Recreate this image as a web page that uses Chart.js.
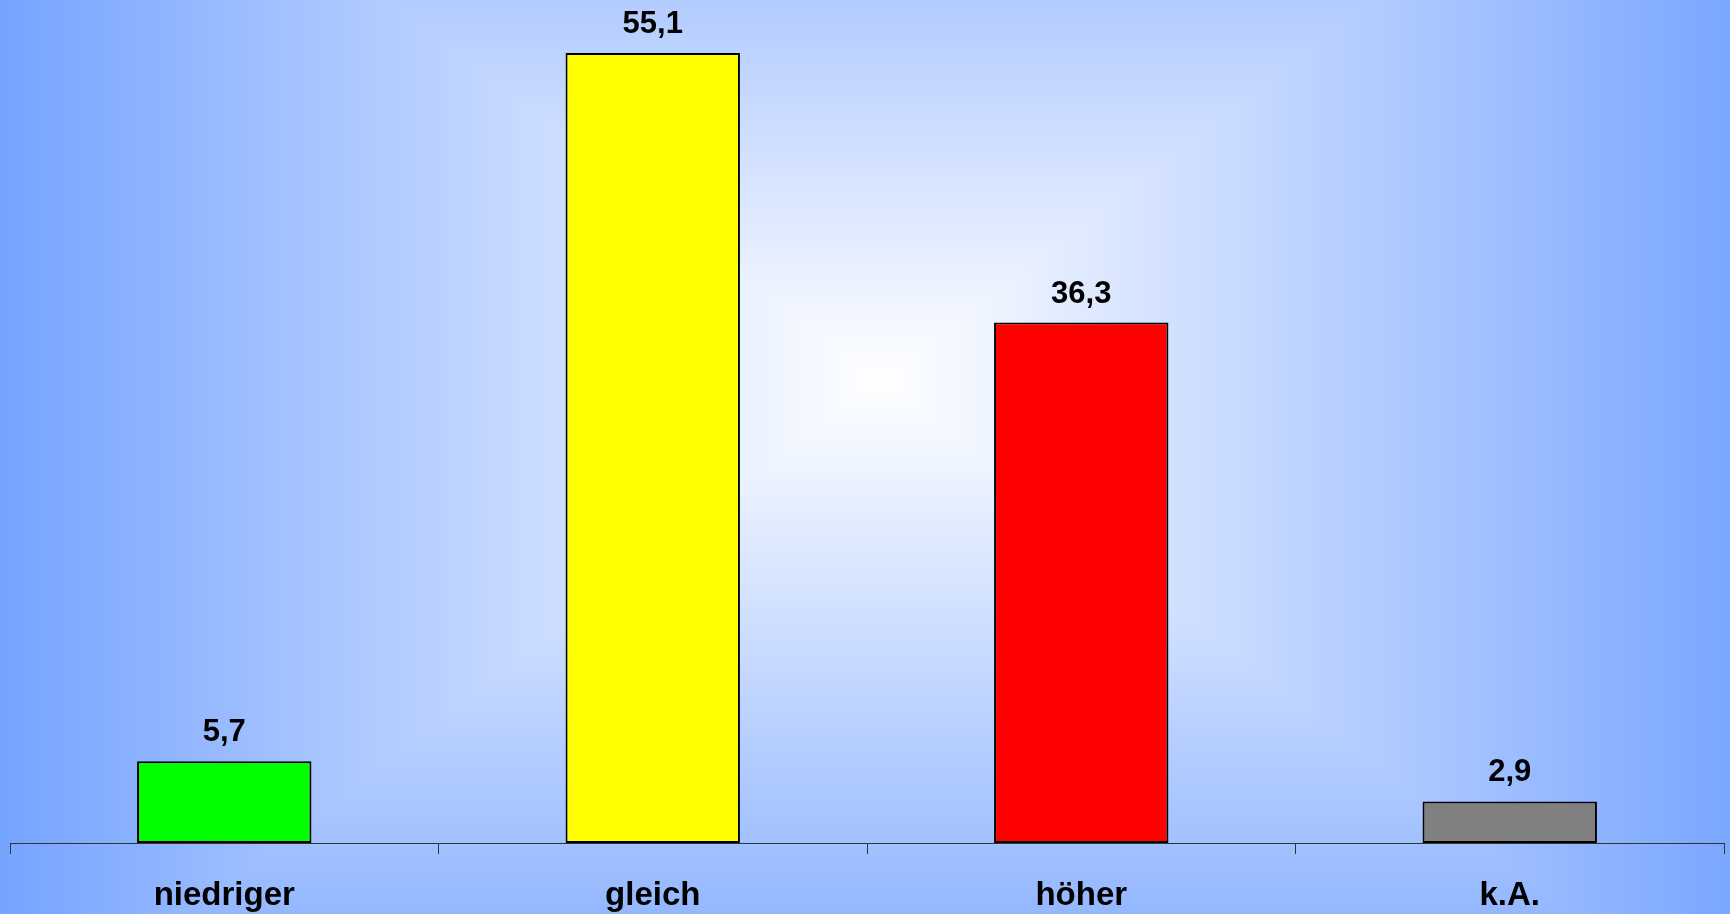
<!DOCTYPE html>
<html>
<head>
<meta charset="utf-8">
<script src="https://cdn.jsdelivr.net/npm/chart.js@4.4.1/dist/chart.umd.min.js"></script>
<style>
  html, body { margin: 0; padding: 0; background: #ffffff; }
  #wrap { width: 1730px; height: 914px; position: relative; }
</style>
</head>
<body>
<div id="wrap"><canvas id="c" width="1730" height="914"></canvas></div>
<script>
const categories = ['niedriger', 'gleich', 'höher', 'k.A.'];
const values = [5.7, 55.1, 36.3, 2.9];
const barColors = ['#00ff00', '#ffff00', '#ff0000', '#808080'];

const bgPlugin = {
  id: 'boxGradient',
  beforeDraw(chart) {
    const ctx = chart.ctx;
    const W = chart.width, H = chart.height;
    const img = ctx.createImageData(W, H);
    const d = img.data;
    const cx = 880, cy = 380, a = 980, b = 760;
    const edge = [102, 153, 255];
    for (let y = 0; y < H; y++) {
      const ty = Math.abs(y - cy) / b;
      for (let x = 0; x < W; x++) {
        let t = Math.max(Math.abs(x - cx) / a, ty);
        if (t > 1) t = 1;
        const i = (y * W + x) * 4;
        d[i] = Math.round(255 + (edge[0] - 255) * t);
        d[i + 1] = Math.round(255 + (edge[1] - 255) * t);
        d[i + 2] = Math.round(255 + (edge[2] - 255) * t);
        d[i + 3] = 255;
      }
    }
    ctx.putImageData(img, 0, 0);
  }
};

const valueLabels = {
  id: 'valueLabels',
  afterDatasetsDraw(chart) {
    const ctx = chart.ctx;
    const meta = chart.getDatasetMeta(0);
    ctx.save();
    ctx.font = 'bold 31px "Liberation Sans", Arial, sans-serif';
    ctx.fillStyle = '#000000';
    ctx.textAlign = 'center';
    ctx.textBaseline = 'alphabetic';
    meta.data.forEach((bar, i) => {
      const txt = values[i].toFixed(1).replace('.', ',');
      ctx.fillText(txt, bar.x, bar.y - 20);
    });
    ctx.restore();
  }
};

new Chart(document.getElementById('c'), {
  type: 'bar',
  data: {
    labels: categories,
    datasets: [{
      data: values,
      backgroundColor: barColors,
      borderColor: '#000000',
      borderWidth: 2,
      borderSkipped: false,
      categoryPercentage: 1.0,
      barPercentage: 0.407
    }]
  },
  options: {
    responsive: false,
    animation: false,
    layout: { padding: { left: 10, right: 6, top: 0, bottom: 0 } },
    plugins: { legend: { display: false }, tooltip: { enabled: false } },
    scales: {
      y: { display: false, min: 0, max: 58.8 },
      x: {
        offset: true,
        afterFit(scale) { scale.height = 71; },
        grid: {
          offset: true,
          drawOnChartArea: false,
          drawTicks: true,
          tickLength: 11,
          color: '#333333',
          lineWidth: 1
        },
        border: { display: true, color: '#333333', width: 1 },
        ticks: {
          color: '#000000',
          padding: 22,
          maxRotation: 0,
          font: { family: '"Liberation Sans", Arial, sans-serif', size: 33, weight: 'bold', lineHeight: 1.2 }
        }
      }
    }
  },
  plugins: [bgPlugin, valueLabels]
});
</script>
</body>
</html>
